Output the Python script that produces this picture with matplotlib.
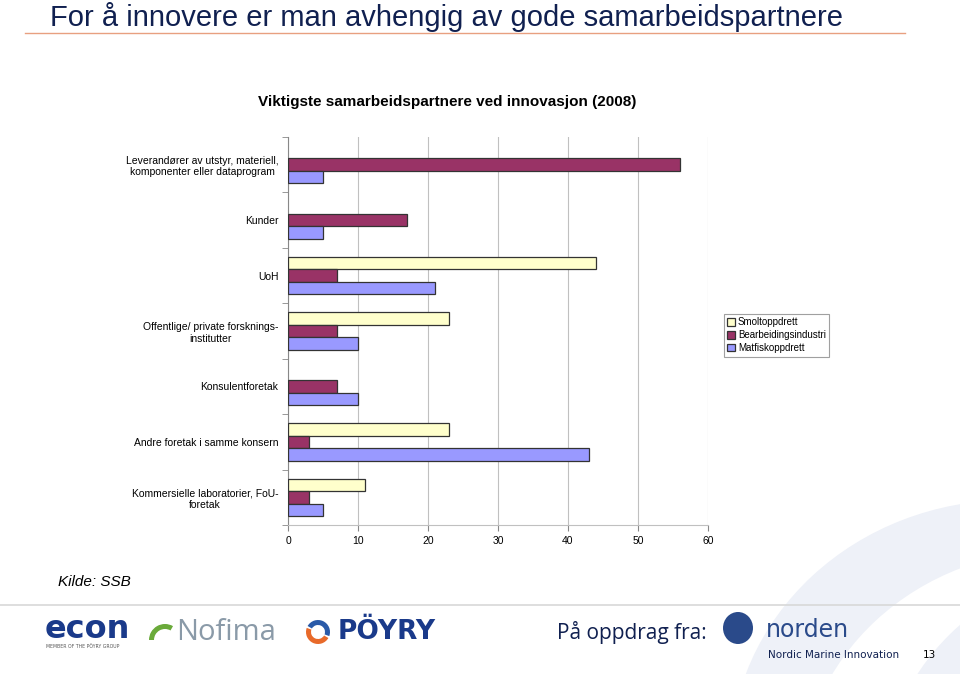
import matplotlib
matplotlib.use("Agg")
import matplotlib.pyplot as plt
import numpy as np
from matplotlib.patches import Ellipse, Rectangle, Wedge
from matplotlib.lines import Line2D

categories = [
    "Leverandører av utstyr, materiell,\nkomponenter eller dataprogram",
    "Kunder",
    "UoH",
    "Offentlige/ private forsknings-\ninstitutter",
    "Konsulentforetak",
    "Andre foretak i samme konsern",
    "Kommersielle laboratorier, FoU-\nforetak",
]
series_names = ["Smoltoppdrett", "Bearbeidingsindustri", "Matfiskoppdrett"]
smolt = [0, 0, 44, 23, 0, 23, 11]
bearb = [56, 17, 7, 7, 7, 3, 3]
matfisk = [5, 5, 21, 10, 10, 43, 5]
xticks = [0, 10, 20, 30, 40, 50, 60]

colors = ["#FFFFCC", "#993366", "#9999FF"]

fig = plt.figure(figsize=(9.6, 6.74), dpi=100)
fig.patch.set_facecolor("white")

# decorative background arcs (lower right)
bg = fig.add_axes([0, 0, 1, 1], zorder=-10)
bg.set_xlim(0, 960); bg.set_ylim(674, 0); bg.axis("off")
bg.add_patch(Ellipse((1010, 760), 560, 520, facecolor="#EEF1F8", edgecolor="none"))
bg.add_patch(Ellipse((1060, 790), 520, 480, facecolor="white", edgecolor="none"))
bg.add_patch(Ellipse((1120, 800), 480, 470, facecolor="#EEF1F8", edgecolor="none"))
bg.add_patch(Rectangle((0, 606), 708, 68, facecolor="white", edgecolor="none"))
bg.add_line(Line2D([0, 960], [605, 605], color="#D8D8D8", lw=1.2))
bg.add_line(Line2D([25, 905], [33, 33], color="#E8A080", lw=1.0))

bg.text(50, 17, "For å innovere er man avhengig av gode samarbeidspartnere",
        fontsize=21, color="#102050", va="center", ha="left", family="Liberation Sans")
bg.text(447, 102, "Viktigste samarbeidspartnere ved innovasjon (2008)",
        fontsize=11, fontweight="bold", color="black", va="center", ha="center",
        family="Liberation Sans")
bg.text(58, 582, "Kilde: SSB", fontsize=11, style="italic", va="center", ha="left",
        family="Liberation Sans")

# logos approximated with text
bg.text(45, 630, "econ", fontsize=23, fontweight="bold", color="#1A3A8A", va="center",
        family="DejaVu Sans")
bg.text(46, 647, "MEMBER OF THE PÖYRY GROUP", fontsize=3.3, color="#555555", va="center")
bg.add_patch(Wedge((165, 640), 16, 180, 300, width=5, facecolor="#6AAA3A", edgecolor="none"))
bg.text(176, 632, "Nofima", fontsize=21, color="#8A9AA8", va="center", family="Open Sans")
bg.add_patch(Wedge((318, 632), 12, 30, 200, width=5, facecolor="#E86A2A", edgecolor="none"))
bg.add_patch(Wedge((318, 632), 12, 210, 380, width=5, facecolor="#2A5AA8", edgecolor="none"))
bg.text(338, 632, "PÖYRY", fontsize=19, fontweight="bold", color="#1A3A8A", va="center",
        family="DejaVu Sans")
bg.text(557, 632, "På oppdrag fra:", fontsize=15, color="#102050", va="center",
        family="Open Sans")
bg.add_patch(Ellipse((738, 628), 30, 32, facecolor="#2A4A8A", edgecolor="none"))
bg.text(766, 630, "norden", fontsize=17, color="#2A4A8A", va="center", family="DejaVu Sans")
bg.text(768, 655, "Nordic Marine Innovation", fontsize=7.5, color="#102050", va="center",
        family="Liberation Sans Narrow")
bg.text(923, 655, "13", fontsize=7.5, color="black", va="center")

# main chart
ax = fig.add_axes([288/960, 1-525/674, 420/960, 388/674])
n = len(categories)
y = np.arange(n)
h = 0.225
for vals, off, col, name in [(smolt, -h, colors[0], series_names[0]),
                             (bearb, 0, colors[1], series_names[1]),
                             (matfisk, h, colors[2], series_names[2])]:
    vals = np.asarray(vals, dtype=float)
    lws = [0.9 if v > 0 else 0 for v in vals]
    ax.barh(y + off, vals, height=h, color=col, edgecolor="#333333", linewidth=lws,
            label=name, zorder=3)

ax.set_xlim(0, 60)
ax.set_ylim(n - 0.5, -0.5)
ax.set_xticks(xticks)
ax.set_xticklabels([str(t) for t in xticks], fontsize=7.5, family="Liberation Sans")
ax.set_yticks(y)
ax.set_yticklabels(categories, fontsize=7.5, family="Liberation Sans",
                   multialignment="center")
ax.set_yticks(np.arange(n + 1) - 0.5, minor=True)
ax.tick_params(axis="y", which="major", length=0, pad=7)
ax.tick_params(axis="y", which="minor", length=4, color="#888888", direction="out")
ax.tick_params(axis="x", which="major", length=4, color="#888888", direction="out", pad=4)
ax.xaxis.grid(True, color="#C0C0C0", linewidth=0.8, zorder=0)
for s in ["top", "right"]:
    ax.spines[s].set_visible(False)
ax.spines["left"].set_color("#888888")
ax.spines["bottom"].set_color("#C0C0C0")
ax.set_facecolor("none")

leg = fig.legend(loc="upper left", bbox_to_anchor=(719/960, 1-309/674),
                 frameon=True, fancybox=False, edgecolor="#888888",
                 handlelength=0.8, handleheight=0.8, handletextpad=0.3,
                 borderpad=0.35, labelspacing=0.3, prop={"family": "Liberation Sans", "size": 7})
leg.get_frame().set_linewidth(0.8)
for hnd in leg.legend_handles:
    hnd.set_linewidth(0.9)

fig.savefig("out.png", dpi=100, facecolor="white")
